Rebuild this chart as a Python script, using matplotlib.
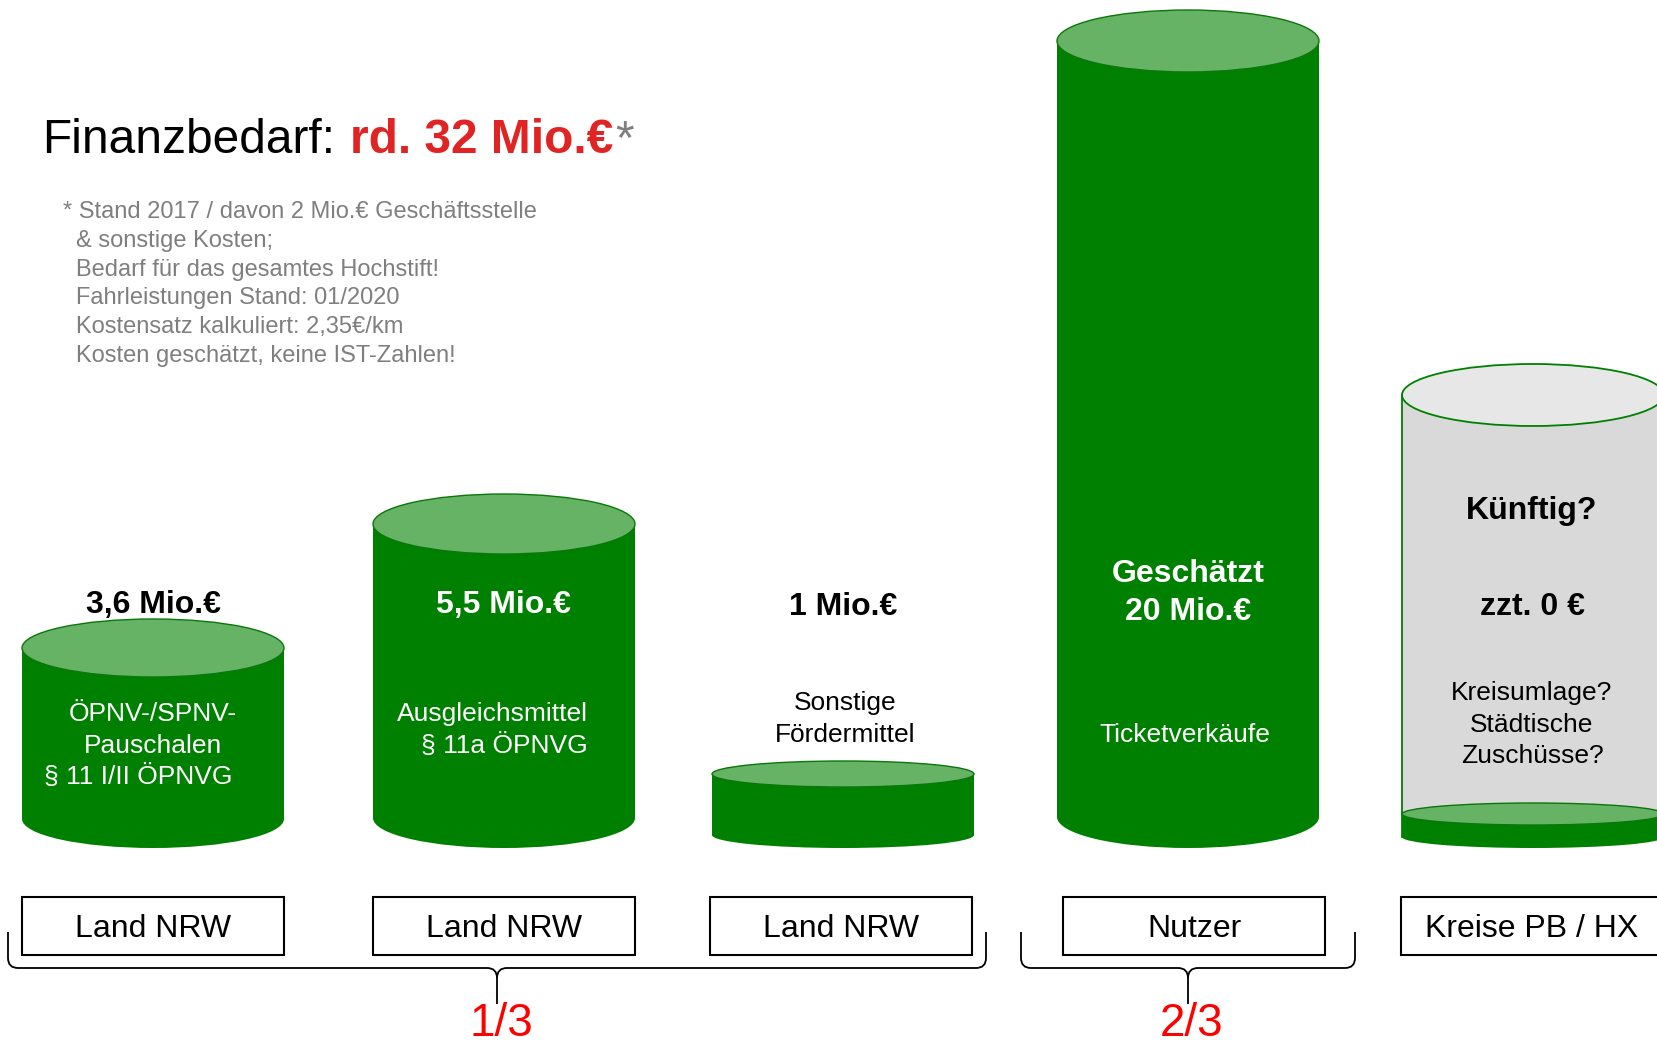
import matplotlib
matplotlib.use("Agg")
from matplotlib import pyplot as plt
from matplotlib.patches import Ellipse, Rectangle, PathPatch
from matplotlib.path import Path
from matplotlib.transforms import Affine2D

# ---- data ----
sources = ["Land NRW", "Land NRW", "Land NRW", "Nutzer", "Kreise PB / HX"]
amounts = ["3,6 Mio.€", "5,5 Mio.€", "1 Mio.€", "Geschätzt\n20 Mio.€", "zzt. 0 €"]
descriptions = [
    "ÖPNV-/SPNV-\nPauschalen\n§ 11 I/II ÖPNVG",
    "Ausgleichsmittel\n§ 11a ÖPNVG",
    "Sonstige\nFördermittel",
    "Ticketverkäufe",
    "Kreisumlage?\nStädtische\nZuschüsse?",
]
# drawn cylinder heights (schematic, the slide is not to scale)
fill_heights = [171, 294, 61, 776, 23]
open_height = 442  # empty grey container of the Kreise
future_label = "Künftig?"
shares = ["1/3", "2/3"]
title_parts = ["Finanzbedarf:", "rd. 32 Mio.€", "*"]
footnote = [
    "* Stand 2017 / davon 2 Mio.€ Geschäftsstelle",
    "& sonstige Kosten;",
    "Bedarf für das gesamtes Hochstift!",
    "Fahrleistungen Stand: 01/2020",
    "Kostensatz kalkuliert: 2,35€/km",
    "Kosten geschätzt, keine IST-Zahlen!",
]

# ---- layout / style ----
W, H = 1657, 1043
X0, STEP = 153, 345      # px centre of first column, column pitch
BASE = 848               # px row on which the cylinders stand
HALF_W = 131             # px half width of cylinders and boxes
RY = [29, 30, 13, 31, 11]
RY_OPEN = 31
col_dx = [0, 6, 0, 0, 0]      # small px nudges of the slide's columns
box_dx = [0, 6, -2, 6, -1]

GREEN = "#008000"
GREEN_TOP = "#66b366"
GREEN_EDGE = "#0b760b"
GREY = "#d9d9d9"
GREY_TOP = "#e7e7e7"
TEXT_GREY = "#7f7f7f"
TITLE_RED = "#e02424"
RED = "#ff0000"

amount_colors = ["black", "white", "black", "white", "black"]
amount_base = [613, 613, 615, 582, 615]
desc_colors = ["white", "white", "black", "white", "black"]
desc_base = [721, 721, 710, 742, 700]
desc_dx = [[0, 0, -15], [-12, 0], [2, 2], [-3], [-1, -1, -1]]

plt.rcParams["font.family"] = ["Liberation Sans", "DejaVu Sans"]


def pitch(size):
    return 1.2 * size * 100 / 72


def main():
    fig = plt.figure(figsize=(W / 100, H / 100), dpi=100)
    ax = fig.add_axes([0, 0, 1, 1])
    ax.set_xlim(-X0 / STEP, (W - X0) / STEP)
    ax.set_ylim(BASE - H, BASE)
    ax.axis("off")
    px = Affine2D().scale(1, -1).translate(0, H)  # slide pixels, y down
    hw = HALF_W / STEP

    def cylinder(x, y0, h, ry):
        ax.add_patch(Rectangle((x - hw, y0), 2 * hw, h, fc=GREEN, ec="none"))
        ax.add_patch(Ellipse((x, y0), 2 * hw, 2 * ry, fc=GREEN, ec="none"))
        ax.add_patch(Ellipse((x, y0 + h), 2 * hw, 2 * ry, fc=GREEN_TOP,
                             ec=GREEN_EDGE, lw=1))

    # grey "future" container behind the last disc
    xk = 4 + col_dx[4] / STEP
    ax.add_patch(Rectangle((xk - hw, RY[4]), 2 * hw, open_height, fc=GREY, ec="none"))
    ax.plot([xk - hw, xk - hw], [RY[4], RY[4] + open_height], color=GREEN, lw=1.3)
    ax.add_patch(Ellipse((xk, RY[4] + open_height), 2 * hw, 2 * RY_OPEN,
                         fc=GREY_TOP, ec=GREEN, lw=1.3))

    for i, h in enumerate(fill_heights):
        cylinder(i + col_dx[i] / STEP, RY[i], h, RY[i])

    # amount labels
    for i, txt in enumerate(amounts):
        for k, line in enumerate(txt.split("\n")):
            ax.text(X0 + STEP * i + col_dx[i], amount_base[i] + k * pitch(23), line,
                    transform=px, ha="center", va="baseline", fontsize=23,
                    fontweight="bold", color=amount_colors[i])
    ax.text(X0 + STEP * 4 - 1, 519, future_label, transform=px, ha="center",
            va="baseline", fontsize=23, fontweight="bold", color="black")

    # descriptions
    for i, txt in enumerate(descriptions):
        for k, line in enumerate(txt.split("\n")):
            ax.text(X0 + STEP * i + col_dx[i] + desc_dx[i][k],
                    desc_base[i] + k * pitch(19), line,
                    transform=px, ha="center", va="baseline", fontsize=19,
                    color=desc_colors[i])

    # source boxes
    for i, s in enumerate(sources):
        xb = i + box_dx[i] / STEP
        ax.add_patch(Rectangle((xb - hw, BASE - 955), 2 * hw, 58, fc="white",
                               ec="black", lw=1.5))
        ax.text(xb, BASE - 937, s, ha="center", va="baseline", fontsize=23)

    # braces with shares
    braces = [(8, 986, 497), (1021, 1355, 1188)]
    ytop, yline, ytip, r = 932, 968, 1004, 10
    for (x0, x1, xm), share in zip(braces, shares):
        verts = [(x0, ytop), (x0, yline - r), (x0, yline), (x0 + r, yline),
                 (xm - r, yline), (xm, yline), (xm, yline + r), (xm, ytip),
                 (xm, yline + r), (xm, yline), (xm + r, yline),
                 (x1 - r, yline), (x1, yline), (x1, yline - r), (x1, ytop)]
        codes = [Path.MOVETO, Path.LINETO, Path.CURVE3, Path.CURVE3,
                 Path.LINETO, Path.CURVE3, Path.CURVE3, Path.LINETO,
                 Path.MOVETO, Path.CURVE3, Path.CURVE3,
                 Path.LINETO, Path.CURVE3, Path.CURVE3, Path.LINETO]
        ax.add_patch(PathPatch(Path(verts, codes), transform=px, fc="none",
                               ec="black", lw=1.3))
        ax.text(xm + 4, 1036, share, transform=px, ha="center", va="baseline",
                fontsize=33, color=RED)

    # title
    t1 = ax.text(42, 153, title_parts[0], transform=px, fontsize=34.5,
                 va="baseline", color="black")
    t2 = ax.annotate(title_parts[1], xy=(1, 0), xycoords=t1, xytext=(11, 0),
                     textcoords="offset points", fontsize=34.5, fontweight="bold",
                     color=TITLE_RED, va="bottom")
    ax.annotate(title_parts[2], xy=(1, 0), xycoords=t2, xytext=(1, 0),
                textcoords="offset points", fontsize=34.5, color=TEXT_GREY,
                va="bottom")

    # footnote
    for k, line in enumerate(footnote):
        ax.text(63 if k == 0 else 76, 218 + k * 28.8, line, transform=px,
                fontsize=17, color=TEXT_GREY, va="baseline")

    fig.savefig("out.png", dpi=100)


if __name__ == "__main__":
    main()
